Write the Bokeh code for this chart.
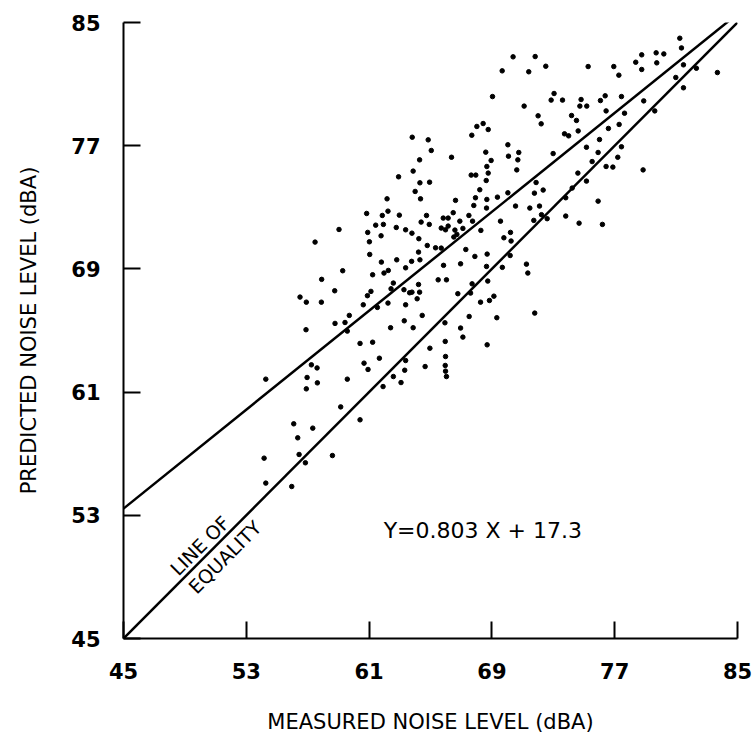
import math
from bokeh.plotting import figure
from bokeh.models import Range1d, FixedTicker, Label
from bokeh.embed import file_html
from bokeh.resources import INLINE

# Measured vs predicted noise level (dBA)
measured = [
    62.92,
    70.38, 71.82, 72.51, 69.67, 71.40, 73.05, 72.86, 73.60, 69.04, 71.10, 72.01, 72.21, 68.43, 68.02,
    68.76, 67.69, 73.73, 74.00, 63.81, 64.85, 65.05, 66.37, 70.04, 70.75, 68.60, 68.95, 70.08, 70.69,
    64.29, 63.87, 68.67, 68.76, 70.62, 67.65, 67.95, 72.99, 64.31, 64.94, 68.63, 71.88,
    81.24, 81.35, 78.76, 79.70, 80.20, 75.27, 76.94, 78.37, 79.74, 78.76, 77.27, 81.48, 82.32, 83.69,
    80.98, 81.48, 74.81, 74.73, 75.18, 76.07, 76.38, 77.44, 78.89, 74.19, 74.51, 76.44, 77.64, 79.61,
    74.62, 76.59, 77.29, 76.01, 75.16, 77.44, 75.92, 77.20, 75.53, 76.44, 76.88, 78.85, 74.60, 75.16,
    74.23, 75.92, 74.68, 76.20,
    62.17, 62.23, 60.84, 61.86, 62.97, 61.43, 61.93, 62.77, 63.38, 59.04, 60.91, 61.78, 61.02, 57.48,
    61.04, 61.80, 62.80, 63.38, 59.28, 61.23, 61.97, 62.25, 57.91, 62.58, 58.76, 61.12, 60.89, 62.43,
    63.27, 63.64, 56.50, 56.91, 57.89, 60.62, 62.23, 63.38, 61.54, 59.71, 58.78, 59.43, 63.29, 56.89,
    62.40, 59.58,
    64.00, 64.35, 68.21, 66.63, 67.93, 68.67, 69.36, 70.04, 71.77, 72.34, 67.82, 68.65, 70.54, 71.47,
    72.10, 73.81, 66.48, 67.50, 64.74, 65.83, 66.15, 64.39, 64.92, 66.91, 67.74, 69.56, 71.73, 72.23,
    72.60, 73.81, 65.70, 65.98, 66.15, 66.59, 67.11, 68.28, 63.79, 66.52, 66.72, 70.21, 69.78, 70.25,
    64.24, 64.79, 65.33, 65.70, 67.30, 64.22, 67.89, 68.69, 70.19, 63.77, 64.31, 65.85, 66.96, 68.65,
    69.68, 71.25, 71.34, 65.50, 66.04, 68.73, 67.71, 64.22, 63.79, 64.29, 66.78, 67.61, 69.13, 64.13,
    68.84, 68.26, 64.46, 67.52, 69.32, 71.79, 65.94, 63.87, 66.96, 67.11,
    60.41, 61.23, 61.67, 60.67, 60.93, 57.24, 57.61, 56.96, 57.63, 56.91, 54.27, 59.58, 61.91, 62.58,
    63.08, 63.32, 63.38, 59.15, 60.41, 56.09, 57.33, 56.35, 56.44, 56.85, 58.61, 54.16, 54.27, 55.96,
    65.96, 68.69, 64.96, 65.98, 64.65, 65.96, 65.98, 66.04,
]
predicted = [
    74.98,
    82.77, 82.79, 82.16, 81.86, 81.80, 80.39, 79.96, 79.96, 80.19, 79.57, 78.94, 78.42, 78.44, 78.25,
    78.05, 77.68, 77.77, 77.64, 77.55, 77.38, 76.69, 76.25, 77.06, 76.56, 76.58, 76.04, 76.32, 76.08,
    76.08, 75.35, 75.65, 75.22, 75.43, 75.09, 75.09, 76.49, 74.59, 74.63, 74.74, 74.61,
    83.98, 83.35, 82.90, 83.03, 82.96, 82.14, 82.14, 82.42, 82.38, 81.95, 81.58, 82.25, 82.03, 81.75,
    81.43, 80.76, 80.00, 79.57, 79.57, 79.93, 80.24, 80.19, 79.91, 78.96, 78.64, 79.26, 79.11, 79.26,
    77.96, 78.12, 78.38, 77.40, 76.90, 76.93, 76.56, 76.25, 75.97, 75.65, 75.61, 75.43, 75.22, 74.70,
    74.25, 73.40, 71.97, 71.89,
    73.55, 72.75, 72.60, 72.47, 72.49, 71.84, 71.89, 71.69, 71.54, 71.56, 71.37, 71.15, 70.76, 70.74,
    69.94, 69.44, 69.59, 69.07, 68.88, 68.62, 68.73, 68.90, 68.32, 68.08, 67.58, 67.54, 67.26, 67.71,
    67.65, 67.45, 67.17, 66.84, 66.84, 66.67, 66.78, 66.67, 66.50, 65.98, 65.46, 65.52, 65.63, 65.05,
    65.18, 64.96,
    74.03, 73.55, 74.14, 73.45, 73.62, 73.51, 73.66, 73.94, 73.92, 74.12, 73.12, 72.95, 73.08, 72.95,
    73.08, 73.62, 72.65, 72.47, 72.47, 72.30, 72.30, 72.04, 71.89, 72.10, 72.10, 72.10, 72.15, 72.52,
    72.26, 72.43, 71.65, 71.54, 71.78, 71.52, 71.63, 71.50, 71.32, 71.07, 71.24, 71.37, 71.02, 70.81,
    70.96, 70.52, 70.37, 70.35, 70.26, 70.09, 69.81, 69.96, 69.87, 69.49, 69.59, 69.23, 69.33, 69.16,
    69.10, 69.31, 68.73, 68.29, 68.29, 68.21, 68.03, 67.99, 67.49, 67.49, 67.39, 67.43, 67.23, 67.06,
    66.95, 66.84, 65.98, 65.91, 65.83, 66.13, 65.50, 65.18, 65.16, 64.57,
    64.16, 64.24, 63.20, 62.88, 62.47, 62.77, 62.57, 61.95, 61.60, 61.21, 61.84, 61.84, 61.36, 62.01,
    61.62, 62.42, 63.05, 60.04, 59.20, 58.94, 58.66, 58.03, 56.95, 56.41, 56.88, 56.71, 55.09, 54.87,
    64.29, 64.07, 63.85, 63.31, 62.66, 62.73, 62.36, 62.01,
]

ticks = [45, 53, 61, 69, 77, 85]
fit_slope = 0.803
fit_intercept = 17.3
line_ends = [45, 85]

FONT = "DejaVu Sans"

p = figure(width=752, height=739, output_backend="svg", toolbar_location=None,
           x_range=Range1d(45, 85), y_range=Range1d(45, 85),
           min_border_left=123, min_border_right=15, min_border_top=22, min_border_bottom=101)
p.outline_line_color = None
p.xgrid.visible = False
p.ygrid.visible = False
p.background_fill_color = "white"
p.border_fill_color = "white"

for ax in (p.xaxis[0], p.yaxis[0]):
    ax.ticker = FixedTicker(ticks=ticks)
    ax.major_tick_in = 17
    ax.major_tick_out = 0
    ax.minor_tick_in = 0
    ax.minor_tick_out = 0
    ax.axis_line_width = 2
    ax.axis_line_color = "black"
    ax.major_tick_line_width = 2
    ax.major_tick_line_color = "black"
    ax.major_label_text_font = FONT
    ax.major_label_text_font_size = "21px"
    ax.major_label_text_font_style = "bold"
    ax.major_label_text_color = "black"
    ax.axis_label_text_font = FONT
    ax.axis_label_text_font_size = "21px"
    ax.axis_label_text_font_style = "normal"
    ax.axis_label_text_color = "black"

p.xaxis[0].axis_label = "MEASURED NOISE LEVEL (dBA)"
p.yaxis[0].axis_label = "PREDICTED NOISE LEVEL (dBA)"
p.xaxis[0].major_label_standoff = 24
p.xaxis[0].axis_label_standoff = 28
p.yaxis[0].major_label_standoff = 23
p.yaxis[0].axis_label_standoff = 27

# line of equality and regression line
p.line(line_ends, line_ends, line_color="black", line_width=2.5)
p.line(line_ends, [fit_slope * v + fit_intercept for v in line_ends], line_color="black", line_width=2.5)

p.scatter(measured, predicted, size=4.5, fill_color="black", line_color="black")

lab_kw = dict(text_font=FONT, text_font_size="19px", text_color="black",
              text_align="center", text_baseline="middle", angle=math.pi / 4)
p.add_layout(Label(x=49.97, y=51.04, text="LINE OF", **lab_kw))
p.add_layout(Label(x=51.60, y=50.28, text="EQUALITY", **lab_kw))
p.add_layout(Label(x=61.95, y=52.0, text="Y=0.803 X + 17.3", text_font=FONT,
                   text_font_size="22px", text_color="black",
                   text_align="left", text_baseline="middle"))

open("out.html", "w").write(file_html(p, INLINE))
